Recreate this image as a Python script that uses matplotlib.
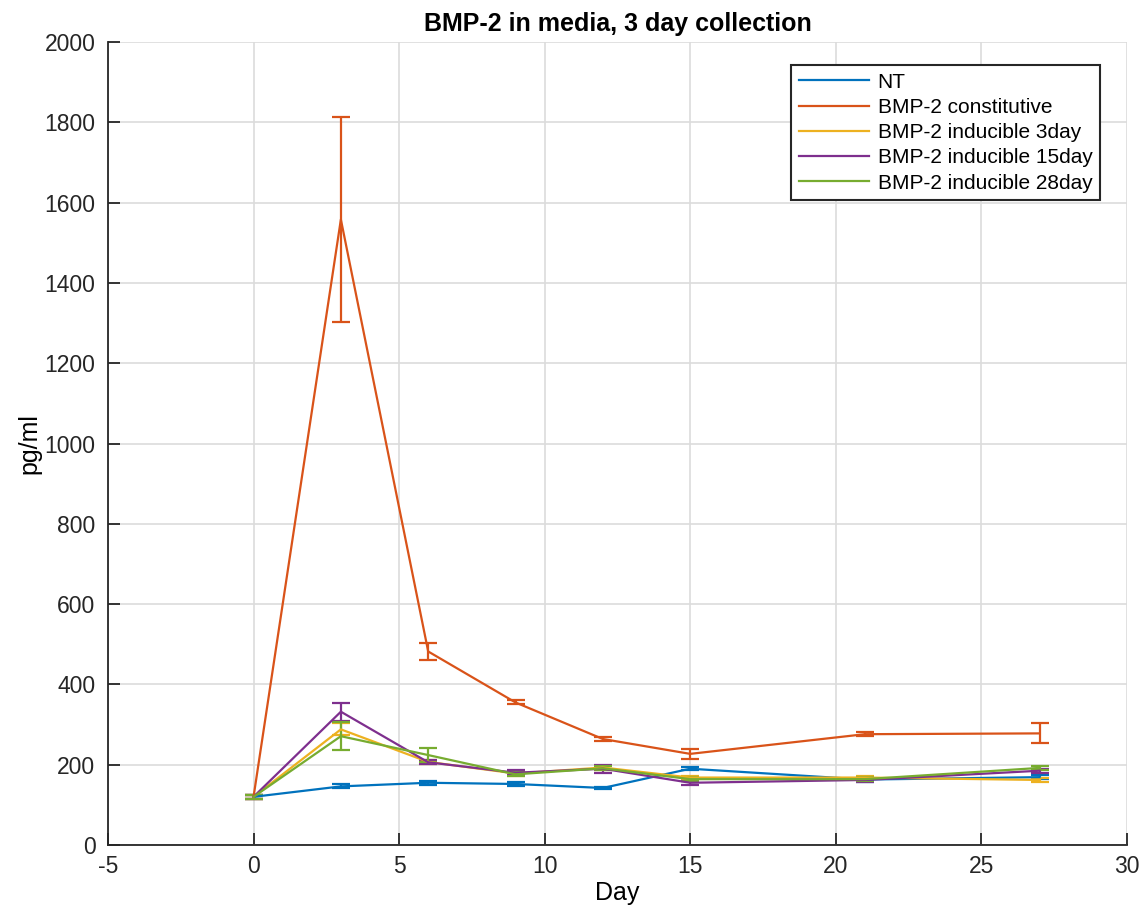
import matplotlib
matplotlib.use("Agg")
import matplotlib.pyplot as plt
from matplotlib.lines import Line2D

plt.rcParams['font.family'] = ['Liberation Sans', 'DejaVu Sans']
plt.rcParams['axes.unicode_minus'] = False

days = [0, 3, 6, 9, 12, 15, 21, 27]
labels = ["NT", "BMP-2 constitutive", "BMP-2 inducible 3day",
          "BMP-2 inducible 15day", "BMP-2 inducible 28day"]
nt = [120, 146, 155, 152, 142, 190, 163, 169]
nt_err = [5, 5, 5, 4, 3, 4, 5, 5]
const = [120, 1558, 482, 355, 264, 227, 276, 278]
const_err = [5, 255, 20, 5, 6, 12, 5, 25]
ind3 = [120, 288, 207, 178, 193, 168, 168, 162]
ind3_err = [5, 15, 5, 5, 5, 5, 5, 4]
ind15 = [120, 332, 206, 180, 190, 155, 162, 185]
ind15_err = [5, 22, 5, 6, 10, 5, 5, 5]
ind28 = [120, 271, 224, 176, 191, 164, 164, 192]
ind28_err = [5, 35, 17, 5, 5, 5, 5, 4]

colors = ["#0072BD", "#D95319", "#EDB120", "#7E2F8E", "#77AC30"]
series = [(nt, nt_err), (const, const_err), (ind3, ind3_err),
          (ind15, ind15_err), (ind28, ind28_err)]

fig = plt.figure(figsize=(11.44, 9.09), dpi=100)
ax = fig.add_axes([0.0944, 0.0704, 0.8906, 0.8834])

handles = []
for (vals, errs), c, lab in zip(series, colors, labels):
    ax.errorbar(days, vals, yerr=errs, color=c, lw=1.6, elinewidth=1.6,
                capsize=6.5, capthick=1.6)
    handles.append(Line2D([], [], color=c, lw=1.6, label=lab))

ax.set_xlim(-5, 30)
ax.set_ylim(0, 2000)
ax.set_xticks(range(-5, 31, 5))
ax.set_yticks(range(0, 2001, 200))
ax.grid(True, color="#dcdcdc", lw=1.2)
ax.set_axisbelow(True)
ax.tick_params(direction="in", length=8.5, width=1.3, labelsize=16.5,
               colors="#262626", pad=7)
ax.tick_params(axis="y", pad=9)
ax.spines["top"].set_visible(False)
ax.spines["right"].set_visible(False)
for s in ("left", "bottom"):
    ax.spines[s].set_color("#262626")
    ax.spines[s].set_linewidth(1.3)
ax.set_xlabel("Day", fontsize=18, labelpad=2)
ax.set_ylabel("pg/ml", fontsize=18, labelpad=2)
ax.set_title("BMP-2 in media, 3 day collection", fontsize=18, fontweight="bold", pad=8)

leg = ax.legend(handles=handles, loc="upper right", bbox_to_anchor=(0.9735, 0.971),
                fontsize=15, fancybox=False, edgecolor="#262626", framealpha=1,
                handlelength=3.4, borderaxespad=0, labelspacing=0.3,
                handletextpad=0.4, borderpad=0.35)
leg.get_frame().set_linewidth(1.5)

fig.savefig("out.png", dpi=100)
